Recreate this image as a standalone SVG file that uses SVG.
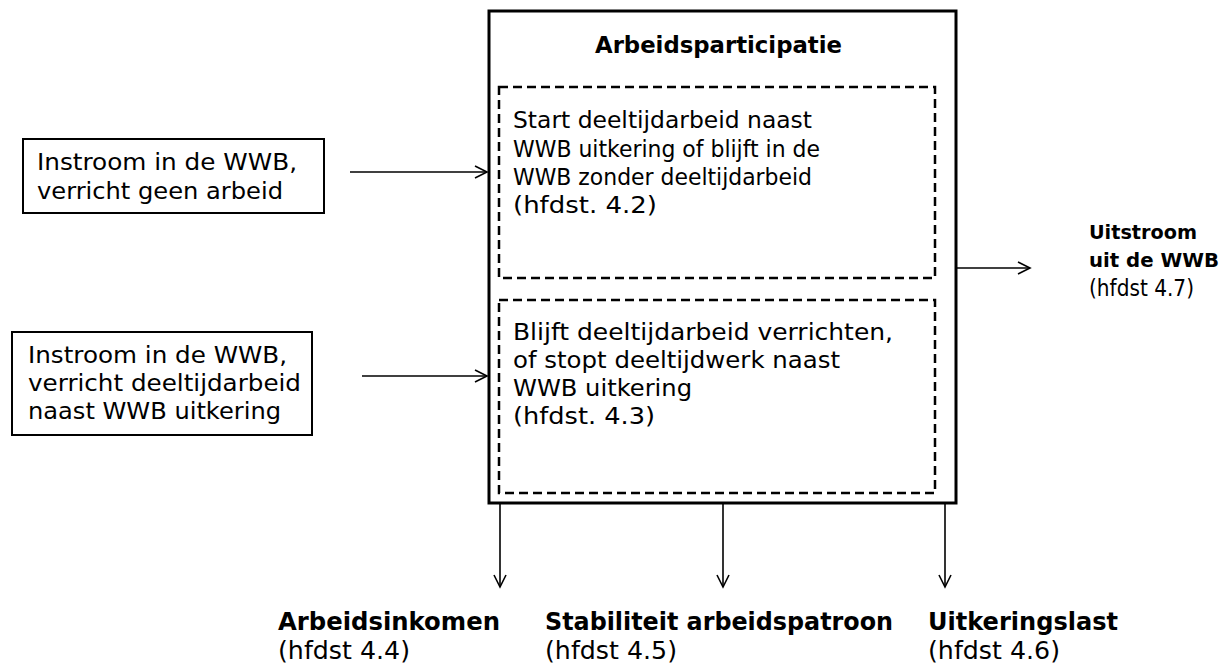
<svg xmlns="http://www.w3.org/2000/svg" width="1228" height="664" viewBox="0 0 1228 664">
<defs>
<marker id="arr" markerUnits="userSpaceOnUse" markerWidth="16" markerHeight="16" viewBox="0 0 16 16" refX="14" refY="8" orient="auto">
<path d="M2,2 L14,8 L2,14" fill="none" stroke="#000" stroke-width="1.6"/>
</marker>
<style>
text{font-family:"DejaVu Sans","Verdana","Liberation Sans",sans-serif;fill:#000}
.r{font-size:23px}
.b{font-size:20px;font-weight:bold}
.t{font-size:23px;font-weight:bold}
.bb{font-size:25px;font-weight:bold}
.rb{font-size:25px}
.box{fill:#fff;stroke:#000;stroke-width:2}
.main{fill:#fff;stroke:#000;stroke-width:3}
.dash{fill:none;stroke:#000;stroke-width:2.5;stroke-dasharray:9,5}
.c{stroke:#000;stroke-width:1.6;fill:none;marker-end:url(#arr)}
</style>
</defs>
<rect width="1228" height="664" fill="#fff"/>
<g id="main">
<rect class="main" x="489" y="11" width="467" height="492"/>
<text class="t" x="595" y="53" textLength="247" lengthAdjust="spacingAndGlyphs">Arbeidsparticipatie</text>
</g>
<g id="deel1">
<rect class="dash" x="499" y="87" width="436" height="191"/>
<text class="r" x="513" y="128" textLength="299" lengthAdjust="spacingAndGlyphs">Start deeltijdarbeid naast</text>
<text class="r" x="513" y="157" textLength="307" lengthAdjust="spacingAndGlyphs">WWB uitkering of blijft in de</text>
<text class="r" x="513" y="185" textLength="299" lengthAdjust="spacingAndGlyphs">WWB zonder deeltijdarbeid</text>
<text class="r" x="513" y="213" textLength="144" lengthAdjust="spacingAndGlyphs">(hfdst. 4.2)</text>
</g>
<g id="deel2">
<rect class="dash" x="499" y="300" width="436" height="193"/>
<text class="r" x="513" y="340" textLength="380" lengthAdjust="spacingAndGlyphs">Blijft deeltijdarbeid verrichten,</text>
<text class="r" x="513" y="368" textLength="327" lengthAdjust="spacingAndGlyphs">of stopt deeltijdwerk naast</text>
<text class="r" x="513" y="396" textLength="179" lengthAdjust="spacingAndGlyphs">WWB uitkering</text>
<text class="r" x="513" y="424" textLength="142" lengthAdjust="spacingAndGlyphs">(hfdst. 4.3)</text>
</g>
<g id="instroom1">
<rect class="box" x="23" y="139" width="301" height="74"/>
<text class="r" x="37" y="170" textLength="260" lengthAdjust="spacingAndGlyphs">Instroom in de WWB,</text>
<text class="r" x="37" y="199" textLength="246" lengthAdjust="spacingAndGlyphs">verricht geen arbeid</text>
</g>
<g id="instroom2">
<rect class="box" x="12" y="332" width="300" height="103"/>
<text class="r" x="28" y="363" textLength="259" lengthAdjust="spacingAndGlyphs">Instroom in de WWB,</text>
<text class="r" x="28" y="391" textLength="273" lengthAdjust="spacingAndGlyphs">verricht deeltijdarbeid</text>
<text class="r" x="28" y="419" textLength="253" lengthAdjust="spacingAndGlyphs">naast WWB uitkering</text>
</g>
<g id="uitstroom">
<text class="b" x="1089" y="239" textLength="108" lengthAdjust="spacingAndGlyphs">Uitstroom</text>
<text class="b" x="1089" y="267" textLength="130" lengthAdjust="spacingAndGlyphs">uit de WWB</text>
<text class="r" x="1089" y="296" textLength="105" lengthAdjust="spacingAndGlyphs">(hfdst 4.7)</text>
</g>
<g id="arbeidsinkomen">
<text class="bb" x="278" y="630" textLength="222" lengthAdjust="spacingAndGlyphs">Arbeidsinkomen</text>
<text class="rb" x="278" y="659" textLength="132" lengthAdjust="spacingAndGlyphs">(hfdst 4.4)</text>
</g>
<g id="stabiliteit">
<text class="bb" x="545" y="630" textLength="348" lengthAdjust="spacingAndGlyphs">Stabiliteit arbeidspatroon</text>
<text class="rb" x="545" y="659" textLength="132" lengthAdjust="spacingAndGlyphs">(hfdst 4.5)</text>
</g>
<g id="uitkeringslast">
<text class="bb" x="928" y="630" textLength="190" lengthAdjust="spacingAndGlyphs">Uitkeringslast</text>
<text class="rb" x="928" y="659" textLength="132" lengthAdjust="spacingAndGlyphs">(hfdst 4.6)</text>
</g>
<g id="connectors">
<line class="c" x1="350" y1="172" x2="487" y2="172"/>
<line class="c" x1="362" y1="376" x2="487" y2="376"/>
<line class="c" x1="957" y1="268" x2="1030" y2="268"/>
<line class="c" x1="500" y1="504" x2="500" y2="587"/>
<line class="c" x1="723" y1="504" x2="723" y2="587"/>
<line class="c" x1="945" y1="504" x2="945" y2="587"/>
</g>
</svg>
